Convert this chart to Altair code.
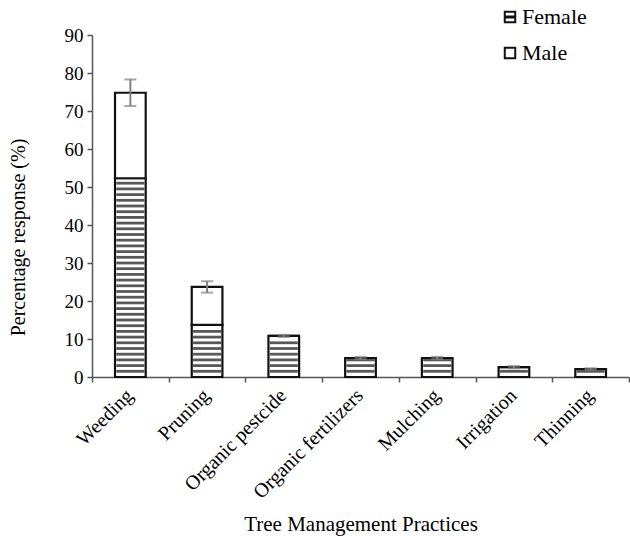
import altair as alt
import pandas as pd

# Percentage response per tree management practice, split by sex
practices = ["Weeding", "Pruning", "Organic pestcide", "Organic fertilizers",
             "Mulching", "Irrigation", "Thinning"]
female = [52.3, 13.7, 10.8, 5.0, 5.0, 2.6, 2.1]
male = [22.5, 10.0, 0.0, 0.0, 0.0, 0.0, 0.0]
error = [3.5, 1.5, 0.3, 0.3, 0.3, 0.3, 0.2]
y_ticks = [0, 10, 20, 30, 40, 50, 60, 70, 80, 90]
sexes = ["Female", "Male"]

SERIF = "Liberation Serif"
STRIPE_STEP = 1.5  # spacing of the horizontal hatch lines, in axis units

long = pd.DataFrame({
    "Practice": practices * 2,
    "Sex": ["Female"] * len(practices) + ["Male"] * len(practices),
    "Value": female + male,
    "Order": [0] * len(practices) + [1] * len(practices),
})
totals = pd.DataFrame({
    "Practice": practices,
    "Total": [f + m for f, m in zip(female, male)],
    "Err": error,
})
# hatch lines filling the Female segment of each bar
hatch = pd.DataFrame([
    {"Practice": p, "Y": k * STRIPE_STEP}
    for p, f in zip(practices, female)
    for k in range(1, int(f / STRIPE_STEP) + 1)
    if k * STRIPE_STEP < f - 0.4
])

x_axis = alt.Axis(tickBand="extent", labelAngle=-45, labelAlign="right",
                  labelBaseline="top", tickSize=5, labelPadding=3,
                  labelOffset=-8, labelFontSize=20,
                  titleY=153, titleBaseline="alphabetic", titleFontSize=21)
y_scale = alt.Scale(domain=[0, 90], nice=False)
y_axis = alt.Axis(values=y_ticks, tickSize=5, labelPadding=4, grid=False,
                  labelOverlap=False, titleX=-74, titleY=202,
                  titleBaseline="middle", titleAngle=-90)
Y_TITLE = "Percentage response (%)"


def xenc():
    return alt.X("Practice:N", sort=practices, title="Tree Management Practices",
                 scale=alt.Scale(paddingInner=0, paddingOuter=0), axis=x_axis)


def yenc(field):
    return alt.Y(field, scale=y_scale, axis=y_axis, title=Y_TITLE)


bars = alt.Chart(long).mark_bar(
    width=alt.RelativeBandSize(0.4), fill="white", stroke="#111111", strokeWidth=2.2
).encode(
    x=xenc(),
    y=alt.Y("Value:Q", stack="zero", scale=y_scale, axis=y_axis, title=Y_TITLE),
    detail="Sex:N",
    order=alt.Order("Order:Q"),
)

hatch_lines = alt.Chart(hatch).mark_tick(
    size=28, thickness=2.8, color="#111111"
).encode(x=xenc(), y=yenc("Y:Q"))

err_base = alt.Chart(totals).transform_calculate(
    lo="datum.Total - datum.Err", hi="datum.Total + datum.Err"
)
err_rule = err_base.mark_rule(color="#808080", strokeWidth=2).encode(
    x=xenc(), y=yenc("lo:Q"), y2="hi:Q"
)
err_lo = err_base.mark_tick(size=12, thickness=2, color="#808080").encode(
    x=xenc(), y=yenc("lo:Q")
)
err_hi = err_base.mark_tick(size=12, thickness=2, color="#808080").encode(
    x=xenc(), y=yenc("hi:Q")
)

female_symbol = "M-1,-1H1V1H-1Z M-1,-0.1H1 M-1,0.1H1"
male_symbol = "M-1,-1H1V1H-1Z"
legend_points = alt.Chart(long).mark_point(opacity=0, filled=False).encode(
    x=xenc(),
    y=yenc("Value:Q"),
    shape=alt.Shape(
        "Sex:N",
        scale=alt.Scale(domain=sexes, range=[female_symbol, male_symbol]),
        legend=alt.Legend(
            title=None, orient="none", legendX=407, legendY=-29,
            symbolOpacity=1, symbolStrokeColor="#111111", symbolFillColor="white",
            symbolStrokeWidth=2, symbolSize=110, labelFont=SERIF,
            labelFontSize=22, labelColor="black", rowPadding=14, labelOffset=1,
        ),
    ),
)

chart = alt.layer(
    bars, hatch_lines, err_rule, err_lo, err_hi, legend_points
).properties(
    width=537, height=342,
    padding={"left": 92, "top": 35, "right": 1, "bottom": 159},
    autosize=alt.AutoSizeParams(type="none"),
).configure_view(stroke=None).configure_axis(
    labelFont=SERIF, titleFont=SERIF, labelFontSize=19, titleFontSize=20,
    titleFontWeight="normal", labelColor="black", titleColor="black",
    domainColor="#555555", tickColor="#555555", domainWidth=1.5, tickWidth=1.5,
)

chart.save("out.html", embed_options={"renderer": "svg", "actions": False})
